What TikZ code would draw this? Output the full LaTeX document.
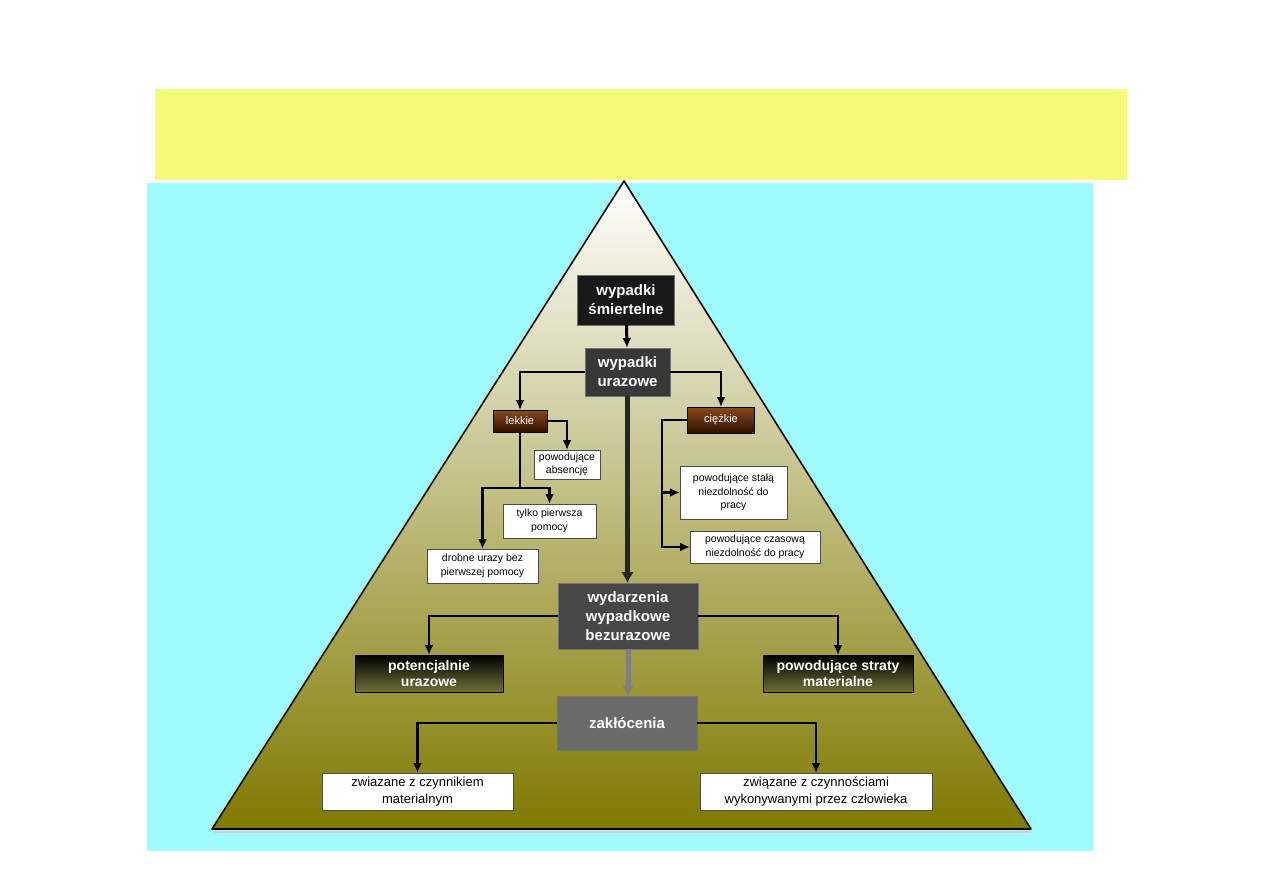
\documentclass[tikz,border=0pt]{standalone}
\usepackage{fontspec}
\setmainfont{Liberation Sans}
\usepackage{tikz}
\usetikzlibrary{arrows.meta}
\definecolor{titleyellow}{HTML}{F4FA7A}
\definecolor{skycyan}{HTML}{A0FCFC}
\definecolor{pyrbase}{HTML}{7F7A00}
\definecolor{browntop}{HTML}{8A4A1A}
\definecolor{brownbot}{HTML}{2E1000}
\definecolor{olivebot}{HTML}{707038}
\tikzset{
  darkbox/.style={draw=black!55, line width=0.8pt, text=white, align=center, inner sep=1pt, outer sep=0pt, font=\bfseries\fontsize{15}{19}\selectfont},
  brownbox/.style={draw=black, top color=browntop, bottom color=brownbot, text=white, inner sep=1pt, outer sep=0pt, font=\fontsize{11}{13}\selectfont},
  olivebox/.style={draw=black, top color=black, bottom color=olivebot, text=white, align=center, inner sep=1pt, outer sep=0pt, font=\bfseries\fontsize{14}{16}\selectfont},
  notebox/.style={draw=black!70, fill=white, align=center, inner sep=1pt, outer sep=0pt, font=\fontsize{10.5}{13.5}\selectfont},
  bignote/.style={draw=black!70, fill=white, align=center, inner sep=1pt, outer sep=0pt, font=\fontsize{13}{17}\selectfont},
  link/.style={line width=2.2pt},
  arrow/.style={-{Latex[length=10pt,width=9pt]}, line width=2.2pt},
  bigarrow/.style={-{Latex[length=11pt,width=13pt]}, line width=5pt, draw=black!85},
  grayarrow/.style={-{Latex[length=11pt,width=13pt]}, line width=5pt, draw=black!50}
}
\begin{document}
\begin{tikzpicture}[x=1pt, y=-1pt]
\useasboundingbox (0,0) rectangle (1263,893);
\fill[white] (0,0) rectangle (1263,893);
% background panels
\fill[titleyellow] (155,89) rectangle (1127,180);
\fill[skycyan] (147,183) rectangle (1093,851);
% pyramid
\draw[black!18, line width=2pt] (214,832) -- (1031,832);
\shade[top color=white, bottom color=pyrbase] (624,181) -- (212,829) -- (1031,829) -- cycle;
\draw[line width=1.6pt, line join=round] (1031,829) -- (212,829) -- (624,181) -- cycle;

\node[darkbox, fill=black!90, minimum width=97pt, minimum height=50pt] (smiert) at (626,300) {wypadki\\śmiertelne};
\node[darkbox, fill=black!78, minimum width=85pt, minimum height=48pt] (urazowe) at (627.5,372) {wypadki\\urazowe};
\node[brownbox, minimum width=54pt, minimum height=22pt] (lekkie) at (520,421) {lekkie};
\node[brownbox, minimum width=67pt, minimum height=26pt] (ciezkie) at (721,420) {ciężkie};
\node[notebox, minimum width=66pt, minimum height=29pt] (absencja) at (567,464.5) {powodujące\\absencję};
\node[notebox, minimum width=93pt, minimum height=34pt] (tylko) at (549.5,521) {tylko pierwsza\\pomocy};
\node[notebox, minimum width=111pt, minimum height=34pt] (drobne) at (482.5,566) {drobne urazy bez\\pierwszej pomocy};
\node[notebox, minimum width=107pt, minimum height=53pt] (stala) at (733.5,492.5) {powodujące stałą\\niezdolność do\\pracy};
\node[notebox, minimum width=130pt, minimum height=32pt] (czasowa) at (755,547) {powodujące czasową\\niezdolność do pracy};
\node[darkbox, fill=black!72, minimum width=140pt, minimum height=66pt] (wydarz) at (628,616) {wydarzenia\\wypadkowe\\bezurazowe};
\node[olivebox, minimum width=148pt, minimum height=37pt] (potenc) at (429,673.5) {potencjalnie\\urazowe};
\node[olivebox, minimum width=150pt, minimum height=37pt] (straty) at (838,673.5) {powodujące straty\\materialne};
\node[darkbox, fill=black!58, minimum width=140pt, minimum height=54pt] (zakl) at (627,723) {zakłócenia};
\node[bignote, minimum width=191pt, minimum height=37pt] (zwmat) at (417.5,791.5) {zwiazane z czynnikiem\\materialnym};
\node[bignote, minimum width=232pt, minimum height=37pt] (zwczl) at (816,791.5) {związane z czynnościami\\wykonywanymi przez człowieka};

\coordinate (lsplit) at (520,488);
\coordinate (cturn) at (662,420);

\draw[arrow, line width=3pt] (smiert) -- (urazowe);
\draw[arrow] (urazowe.west) -| (lekkie.north);
\draw[arrow] (urazowe.east) -| (ciezkie.north);
\draw[arrow] (lekkie.east) -| (absencja.north);
\draw[link] (lekkie.south) -- (lsplit);
\draw[arrow] (lsplit) -| (tylko.north);
\draw[arrow] (lsplit) -| (drobne.north);
\draw[arrow] (ciezkie.west) -- (cturn) |- (czasowa.west);
\draw[arrow] (cturn |- stala.west) -- (stala.west);
\draw[bigarrow] (urazowe.south) -- (urazowe.south |- wydarz.north);
\draw[arrow] (wydarz.west) -| (potenc.north);
\draw[arrow] (wydarz.east) -| (straty.north);
\draw[grayarrow] (wydarz.south) -- (wydarz.south |- zakl.north);
\draw[arrow] (zakl.west) -| (zwmat.north);
\draw[arrow] (zakl.east) -| (zwczl.north);
\end{tikzpicture}
\end{document}
